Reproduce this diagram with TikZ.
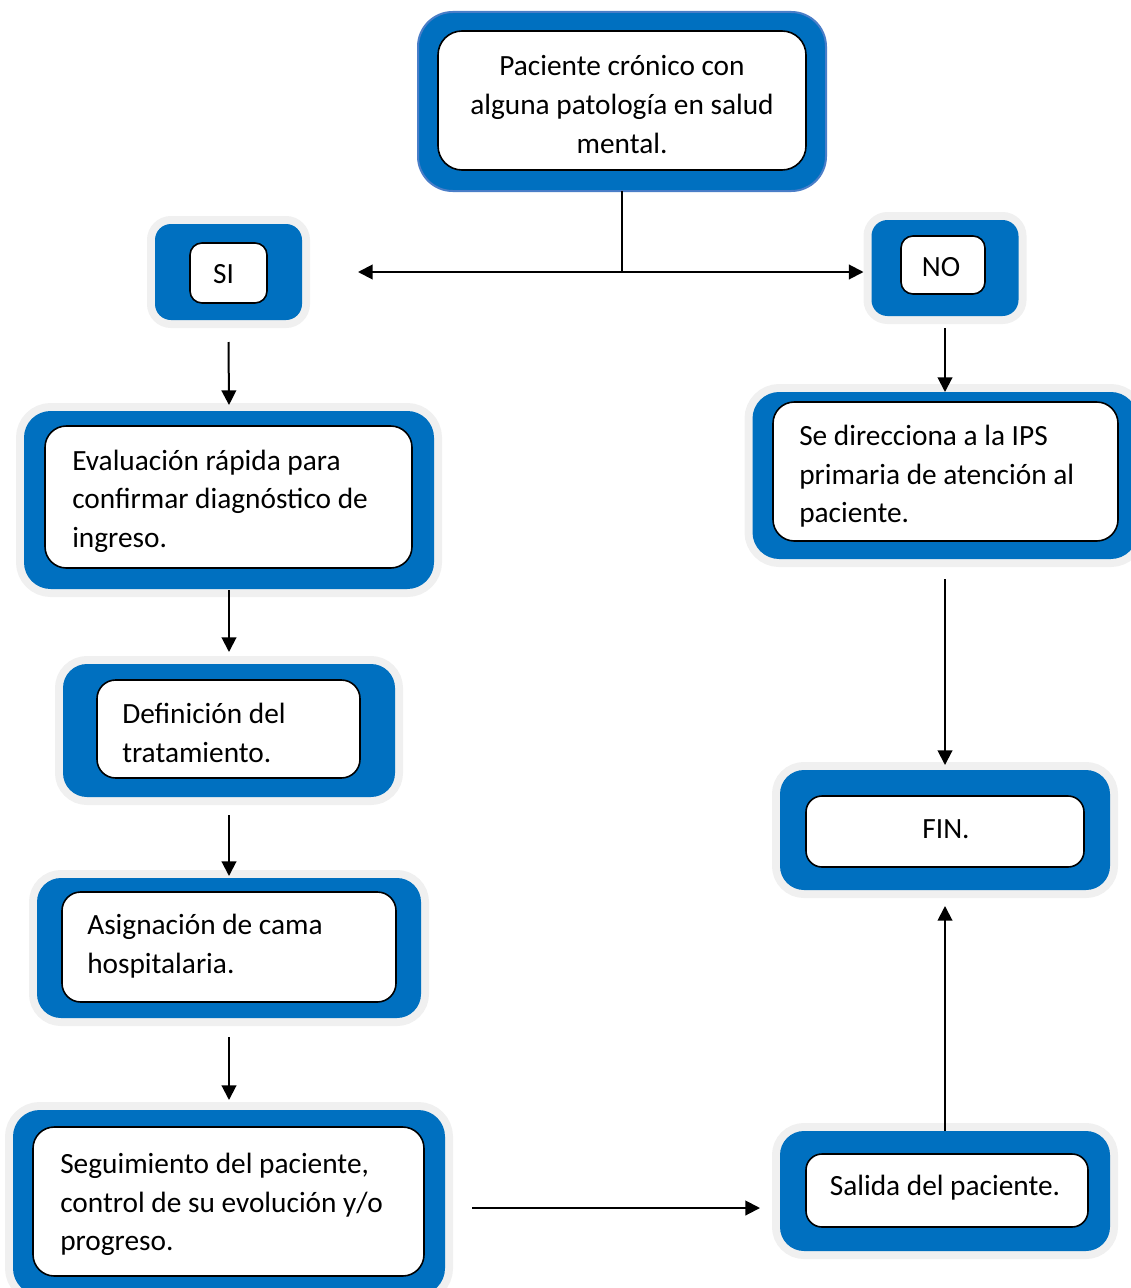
\documentclass[tikz,border=0pt]{standalone}
\usepackage{fontspec}
\setmainfont{Carlito}
\usetikzlibrary{arrows.meta,calc}
\definecolor{frameblue}{HTML}{0070C0}
\definecolor{halo}{HTML}{F0F0F0}
\definecolor{edgeblue}{HTML}{4A7EC8}
\def\pxu{0.75pt}
\tikzset{
  frame/.style={fill=frameblue, draw=none, inner sep=0pt, outer sep=0pt,
    rounded corners=#1, preaction={draw=halo, line width=12pt, rounded corners=#1}},
  topframe/.style={fill=frameblue, draw=edgeblue, line width=1.5pt, inner sep=0pt, outer sep=0pt, rounded corners=#1},
  card/.style={fill=white, draw=black, line width=1.2pt, rounded corners=#1, outer sep=0pt, inner sep=0pt},
  label/.style={inner sep=0pt, font=\fontsize{22}{28.9}\selectfont},
  arr/.style={line width=1.5pt, -{Triangle[length=11pt,width=11pt]}},
  conn/.style={line width=1.5pt}
}
\begin{document}
\begin{tikzpicture}[x=0.75pt,y=-0.75pt]
\path[use as bounding box, clip] (0,0) rectangle (1131,1288);
% blue frames
\node[topframe=26pt, minimum width=408*\pxu, minimum height=179*\pxu] (topB) at (622,101.5) {};
\node[frame=12pt, minimum width=147*\pxu, minimum height=96*\pxu] (siB) at (228.5,272) {};
\node[frame=12pt, minimum width=147*\pxu, minimum height=96*\pxu] (noB) at (945,268) {};
\node[frame=20pt, minimum width=410*\pxu, minimum height=178*\pxu] (evalB) at (229,500) {};
\node[frame=18pt, minimum width=332*\pxu, minimum height=133*\pxu] (defB) at (229,730.5) {};
\node[frame=18pt, minimum width=384*\pxu, minimum height=140*\pxu] (asigB) at (229,948) {};
\node[frame=20pt, minimum width=432*\pxu, minimum height=185*\pxu] (segB) at (229,1202.5) {};
\node[frame=20pt, minimum width=385*\pxu, minimum height=167*\pxu] (dirB) at (945,475.5) {};
\node[frame=18pt, minimum width=330*\pxu, minimum height=120*\pxu] (finB) at (945,830) {};
\node[frame=18pt, minimum width=330*\pxu, minimum height=120*\pxu] (salB) at (945,1191) {};
% white cards
\node[card=18pt, minimum width=368*\pxu, minimum height=139*\pxu] (top) at (622,100.5) {};
\node[card=9pt, minimum width=77*\pxu, minimum height=60*\pxu] (si) at (228.5,273) {};
\node[card=9pt, minimum width=84*\pxu, minimum height=58*\pxu] (no) at (943,265) {};
\node[card=16pt, minimum width=367*\pxu, minimum height=142*\pxu] (eval) at (228.5,497) {};
\node[card=14pt, minimum width=263*\pxu, minimum height=98*\pxu] (def) at (228.5,729) {};
\node[card=14pt, minimum width=334*\pxu, minimum height=110*\pxu] (asig) at (229,947) {};
\node[card=16pt, minimum width=391*\pxu, minimum height=149*\pxu] (seg) at (228.5,1201.5) {};
\node[card=16pt, minimum width=345*\pxu, minimum height=139*\pxu] (dir) at (945.5,471.5) {};
\node[card=12pt, minimum width=278*\pxu, minimum height=71*\pxu] (fin) at (945,831.5) {};
\node[card=12pt, minimum width=282*\pxu, minimum height=73*\pxu] (sal) at (947,1190.5) {};
% texts
\node[label, align=center] (topT) at ($(top.center)+(0,4)$) {Paciente crónico con\\alguna patología en salud\\mental.};
\node[label] (siT) at ($(si.center)+(-5,1)$) {SI};
\node[label] (noT) at ($(no.center)+(-2,2)$) {NO};
\node[label, align=left, anchor=west] (evalT) at ($(eval.west)+(27,4)$) {Evaluación rápida para\\confirmar diagnóstico de\\ingreso.};
\node[label, align=left, anchor=west] (defT) at ($(def.west)+(25,4)$) {Definición del\\tratamiento.};
\node[label, align=left, anchor=west] (asigT) at ($(asig.west)+(25,-1)$) {Asignación de cama\\hospitalaria.};
\node[label, align=left, anchor=west] (segT) at ($(seg.west)+(27,3)$) {Seguimiento del paciente,\\control de su evolución y/o\\progreso.};
\node[label, align=left, anchor=west] (dirT) at ($(dir.west)+(26,5)$) {Se direcciona a la IPS\\primaria de atención al\\paciente.};
\node[label] (finT) at ($(fin.center)+(1,-2)$) {FIN.};
\node[label] (salT) at ($(sal.center)+(-2,-3)$) {Salida del paciente.};
% connectors
\coordinate (split) at ($(topB.south)+(0,81)$);
\draw[conn] (topB.south) -- (split);
\draw[arr] (split) -- ($(siB.east)+(56,0)$);
\draw[arr] (split) -- ($(noB.west)+(-8,4)$);
\draw[arr] ($(siB.south)+(0,22)$) -- ($(evalB.north)+(0,-6)$);
\draw[arr] ($(evalB.south)+(0,1)$) -- ($(defB.north)+(0,-12)$);
\draw[arr] ($(defB.south)+(0,18)$) -- ($(asigB.north)+(0,-2)$);
\draw[arr] ($(asigB.south)+(0,19)$) -- ($(segB.north)+(0,-10)$);
\draw[arr] ($(noB.south)+(0,12)$) -- (dirB.north);
\draw[arr] ($(dirB.south)+(0,20)$) -- ($(finB.north)+(0,-5)$);
\draw[arr] (salB.north) -- ($(finB.south)+(0,16)$);
\draw[arr] ($(segB.east)+(27,5.5)$) -- ($(salB.west)+(-20,17)$);
\end{tikzpicture}
\end{document}
